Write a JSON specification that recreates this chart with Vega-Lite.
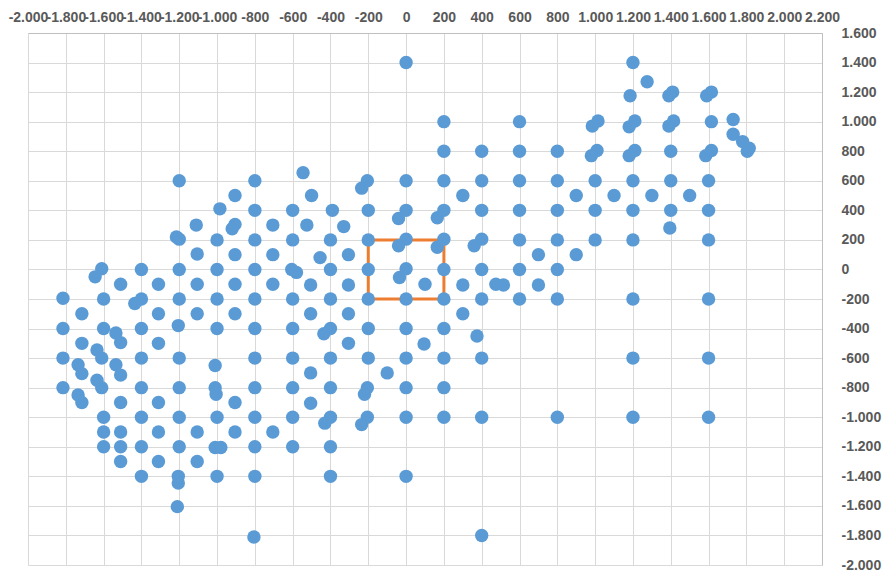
{
  "$schema": "https://vega.github.io/schema/vega-lite/v6.json",
  "width": 794,
  "height": 532,
  "autosize": {"type": "none"},
  "padding": {"left": 28, "top": 33, "right": 67, "bottom": 9},
  "background": "white",
  "config": {
    "locale": {"number": {"decimal": ",", "thousands": ".", "grouping": [3], "currency": ["", ""], "minus": "-"}},
    "view": {"stroke": null},
    "font": "Liberation Sans Narrow, Liberation Sans"
  },
  "encoding": {
    "x": {"field": "x", "type": "quantitative", "scale": {"domain": [-2000, 2200], "nice": false},
      "axis": {"orient": "top", "labelPadding": 9, "format": ",.0f", "labelOverlap": false, "labelFlush": false, "labelBound": false,
        "grid": true, "gridColor": "#D9D9D9", "gridWidth": 1, "ticks": false, "domain": true, "domainColor": "#BFBFBF",
        "labelColor": "#595959", "labelFontSize": 14, "labelFontWeight": "bold", "title": null,
        "values": [-2000,-1800,-1600,-1400,-1200,-1000,-800,-600,-400,-200,0,200,400,600,800,1000,1200,1400,1600,1800,2000,2200]}},
    "y": {"field": "y", "type": "quantitative", "scale": {"domain": [-2000, 1600], "nice": false},
      "axis": {"orient": "right", "labelPadding": 19, "labelAlign": "left", "labelBaseline": "middle", "format": ",.0f", "labelOverlap": false, "labelFlush": false, "labelBound": false,
        "grid": true, "gridColor": "#D9D9D9", "gridWidth": 1, "ticks": false, "domain": true, "domainColor": "#BFBFBF",
        "labelColor": "#595959", "labelFontSize": 14, "labelFontWeight": "bold", "title": null,
        "values": [-2000,-1800,-1600,-1400,-1200,-1000,-800,-600,-400,-200,0,200,400,600,800,1000,1200,1400,1600]}}
  },
  "layer": [
    {
      "data": {"values": [
        {"x": -200, "y": -200, "o": 1},
        {"x": -200, "y": 200, "o": 2},
        {"x": 200, "y": 200, "o": 3},
        {"x": 200, "y": -200, "o": 4},
        {"x": -200, "y": -200, "o": 5}
      ]},
      "mark": {"type": "line", "color": "#ED7D31", "strokeWidth": 3},
      "encoding": {
        "order": {"field": "o", "type": "quantitative"}
      }
    },
    {
      "data": {"values": [
        {"x":0,"y":1400},{"x":1200,"y":1400},{"x":1275,"y":1270},{"x":1185,"y":1175},{"x":1410,"y":1200},{"x":1390,"y":1175},{"x":1615,"y":1200},{"x":1590,"y":1175},
        {"x":200,"y":1000},{"x":600,"y":1000},{"x":1015,"y":1005},{"x":985,"y":970},{"x":1210,"y":1005},{"x":1180,"y":965},{"x":1415,"y":1005},{"x":1390,"y":970},{"x":1615,"y":1000},{"x":1730,"y":1015},{"x":1730,"y":915},{"x":1780,"y":865},{"x":1815,"y":820},{"x":1805,"y":800},
        {"x":200,"y":800},{"x":400,"y":800},{"x":600,"y":800},{"x":800,"y":800},{"x":1010,"y":805},{"x":980,"y":770},{"x":1210,"y":805},{"x":1180,"y":770},{"x":1400,"y":800},{"x":1615,"y":805},{"x":1585,"y":770},
        {"x":-545,"y":655},
        {"x":-1200,"y":600},{"x":-800,"y":600},{"x":-205,"y":600},{"x":-235,"y":550},{"x":0,"y":600},{"x":200,"y":600},{"x":400,"y":600},{"x":600,"y":600},{"x":800,"y":600},{"x":1000,"y":600},{"x":1200,"y":600},{"x":1400,"y":600},{"x":1600,"y":600},
        {"x":-905,"y":500},{"x":-500,"y":500},{"x":300,"y":500},{"x":900,"y":500},{"x":1100,"y":500},{"x":1300,"y":500},{"x":1500,"y":500},
        {"x":-985,"y":410},{"x":-800,"y":400},{"x":-600,"y":400},{"x":-390,"y":400},{"x":-200,"y":400},{"x":0,"y":400},{"x":-40,"y":345},{"x":200,"y":400},{"x":165,"y":350},{"x":400,"y":400},{"x":600,"y":400},{"x":800,"y":400},{"x":1000,"y":400},{"x":1200,"y":400},{"x":1400,"y":400},{"x":1600,"y":400},
        {"x":-1110,"y":300},{"x":-905,"y":305},{"x":-920,"y":275},{"x":-705,"y":300},{"x":-525,"y":300},{"x":-330,"y":290},{"x":1395,"y":280},
        {"x":-1215,"y":220},{"x":-1200,"y":205},{"x":-1000,"y":200},{"x":-800,"y":200},{"x":-600,"y":200},{"x":-400,"y":200},{"x":-200,"y":200},{"x":0,"y":205},{"x":-40,"y":160},{"x":200,"y":205},{"x":165,"y":150},{"x":400,"y":205},{"x":360,"y":160},{"x":600,"y":200},{"x":800,"y":200},{"x":1000,"y":200},{"x":1200,"y":200},{"x":1600,"y":200},
        {"x":-1105,"y":105},{"x":-905,"y":100},{"x":-705,"y":100},{"x":-455,"y":80},{"x":-305,"y":100},{"x":700,"y":100},{"x":900,"y":100},
        {"x":-1610,"y":5},{"x":-1645,"y":-50},{"x":-1400,"y":0},{"x":-1200,"y":0},{"x":-1000,"y":0},{"x":-800,"y":0},{"x":-605,"y":0},{"x":-580,"y":-20},{"x":-400,"y":0},{"x":-200,"y":0},{"x":0,"y":5},{"x":-35,"y":-55},{"x":200,"y":0},{"x":400,"y":0},{"x":600,"y":0},{"x":800,"y":0},
        {"x":-1510,"y":-100},{"x":-1310,"y":-100},{"x":-1105,"y":-100},{"x":-905,"y":-100},{"x":-705,"y":-100},{"x":-505,"y":-105},{"x":-305,"y":-105},{"x":100,"y":-100},{"x":300,"y":-105},{"x":475,"y":-100},{"x":515,"y":-105},{"x":700,"y":-105},
        {"x":-1815,"y":-195},{"x":-1600,"y":-200},{"x":-1400,"y":-200},{"x":-1435,"y":-230},{"x":-1200,"y":-200},{"x":-1000,"y":-200},{"x":-800,"y":-200},{"x":-600,"y":-200},{"x":-400,"y":-200},{"x":-200,"y":-200},{"x":0,"y":-200},{"x":200,"y":-200},{"x":400,"y":-200},{"x":600,"y":-200},{"x":800,"y":-200},{"x":1200,"y":-200},{"x":1600,"y":-200},
        {"x":-1715,"y":-300},{"x":-1310,"y":-300},{"x":-1105,"y":-300},{"x":-905,"y":-300},{"x":-505,"y":-300},{"x":-305,"y":-300},{"x":300,"y":-300},
        {"x":-1815,"y":-400},{"x":-1600,"y":-400},{"x":-1535,"y":-430},{"x":-1400,"y":-400},{"x":-1205,"y":-380},{"x":-1000,"y":-400},{"x":-800,"y":-400},{"x":-600,"y":-400},{"x":-400,"y":-400},{"x":-435,"y":-435},{"x":-200,"y":-400},{"x":0,"y":-400},{"x":200,"y":-400},{"x":375,"y":-450},
        {"x":-1715,"y":-500},{"x":-1510,"y":-495},{"x":-1310,"y":-500},{"x":-305,"y":-500},{"x":95,"y":-505},
        {"x":-1815,"y":-600},{"x":-1635,"y":-545},{"x":-1610,"y":-600},{"x":-1400,"y":-600},{"x":-1200,"y":-600},{"x":-1010,"y":-650},{"x":-800,"y":-600},{"x":-600,"y":-600},{"x":-400,"y":-600},{"x":-200,"y":-600},{"x":0,"y":-600},{"x":200,"y":-600},{"x":400,"y":-600},{"x":1200,"y":-600},{"x":1600,"y":-600},
        {"x":-1535,"y":-645},{"x":-1510,"y":-715},{"x":-1735,"y":-645},{"x":-1715,"y":-705},
        {"x":-505,"y":-700},{"x":-100,"y":-700},
        {"x":-1815,"y":-800},{"x":-1635,"y":-750},{"x":-1610,"y":-800},{"x":-1400,"y":-800},{"x":-1200,"y":-800},{"x":-1010,"y":-800},{"x":-1005,"y":-845},{"x":-800,"y":-800},{"x":-600,"y":-800},{"x":-400,"y":-800},{"x":-205,"y":-800},{"x":-220,"y":-845},{"x":0,"y":-800},{"x":200,"y":-800},
        {"x":-1735,"y":-850},{"x":-1715,"y":-900},{"x":-1510,"y":-900},{"x":-1310,"y":-900},{"x":-905,"y":-900},{"x":-505,"y":-905},
        {"x":-1600,"y":-1000},{"x":-1400,"y":-1000},{"x":-1200,"y":-1000},{"x":-1000,"y":-1000},{"x":-800,"y":-1000},{"x":-600,"y":-1000},{"x":-400,"y":-1000},{"x":-430,"y":-1040},{"x":-205,"y":-1000},{"x":-235,"y":-1050},{"x":0,"y":-1000},{"x":200,"y":-1000},{"x":400,"y":-1000},{"x":800,"y":-1000},{"x":1200,"y":-1000},{"x":1600,"y":-1000},
        {"x":-1600,"y":-1100},{"x":-1510,"y":-1100},{"x":-1310,"y":-1100},{"x":-1105,"y":-1100},{"x":-905,"y":-1100},{"x":-705,"y":-1100},
        {"x":-1600,"y":-1200},{"x":-1510,"y":-1200},{"x":-1400,"y":-1200},{"x":-1200,"y":-1200},{"x":-1010,"y":-1205},{"x":-980,"y":-1205},{"x":-800,"y":-1200},{"x":-600,"y":-1200},{"x":-400,"y":-1200},
        {"x":-1510,"y":-1300},{"x":-1310,"y":-1300},{"x":-1105,"y":-1300},
        {"x":-1400,"y":-1400},{"x":-1205,"y":-1400},{"x":-1205,"y":-1445},{"x":-1000,"y":-1400},{"x":-800,"y":-1400},{"x":-400,"y":-1400},{"x":0,"y":-1400},
        {"x":-1210,"y":-1605},{"x":-805,"y":-1810},{"x":400,"y":-1800}
      ]},
      "mark": {"type": "circle", "color": "#5B9BD5", "opacity": 1, "size": 180}
    }
  ]
}
